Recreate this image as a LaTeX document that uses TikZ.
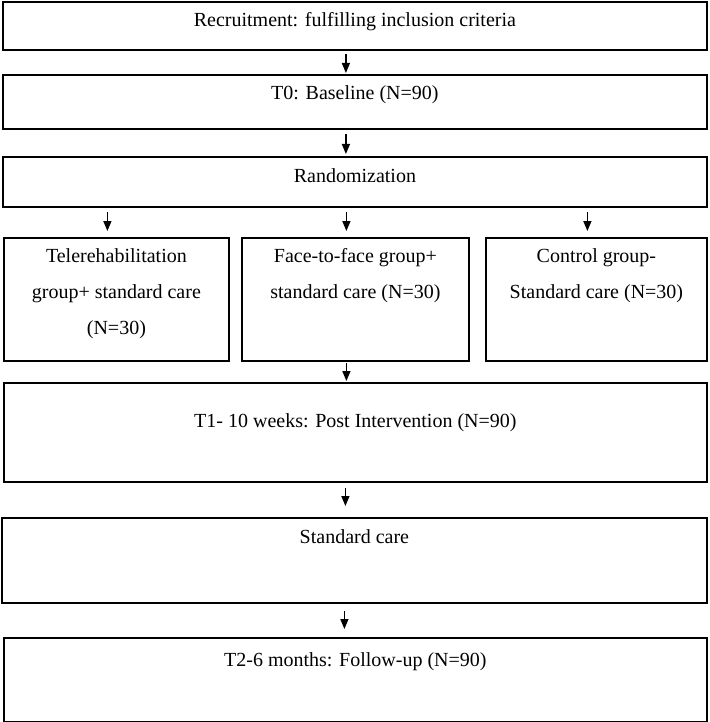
\documentclass[tikz,border=0pt]{standalone}
\usepackage{fontspec}
\setmainfont{Liberation Serif}
\usetikzlibrary{arrows.meta}

\tikzset{
  stage/.style={draw, line width=1.8pt, anchor=north west, inner sep=0pt},
  stagetext/.style={anchor=north, inner sep=0pt, align=center,
    font=\fontsize{20}{36}\selectfont},
  arr/.style={line width=1.4pt, -{Triangle[length=10pt, width=8pt]}},
}

\begin{document}
\begin{tikzpicture}[x=1pt, y=-1pt]
  \useasboundingbox (0, 0) rectangle (709, 722);

  % boxes
  \node (recruit) [stage, minimum width=704pt, minimum height=48pt] at (2, 1) {};
  \node (base) [stage, minimum width=704pt, minimum height=54pt] at (2, 74) {};
  \node (rand) [stage, minimum width=704pt, minimum height=50pt] at (2, 156) {};
  \node (tele) [stage, minimum width=225pt, minimum height=123pt] at (3, 237) {};
  \node (face) [stage, minimum width=227pt, minimum height=123pt] at (241, 237) {};
  \node (ctrl) [stage, minimum width=221pt, minimum height=123pt] at (485, 237) {};
  \node (post) [stage, minimum width=703pt, minimum height=99pt] at (3, 382) {};
  \node (std) [stage, minimum width=705pt, minimum height=85pt] at (1, 517) {};
  \node (follow) [stage, minimum width=703pt, minimum height=84pt] at (3, 637) {};

  % texts
  \node (recruit-t) [stagetext] at ([yshift=-11pt]recruit.north)
    {Recruitment: fulfilling inclusion criteria};
  \node (base-t) [stagetext] at ([yshift=-11pt]base.north) {T0: Baseline (N=90)};
  \node (rand-t) [stagetext] at ([yshift=-12pt]rand.north) {Randomization};
  \node (tele-t) [stagetext] at ([yshift=-11pt]tele.north)
    {Telerehabilitation\\group+ standard care\\(N=30)};
  \node (face-t) [stagetext] at ([yshift=-11pt]face.north)
    {Face-to-face group+\\standard care (N=30)};
  \node (ctrl-t) [stagetext] at ([yshift=-11pt]ctrl.north)
    {Control group-\\Standard care (N=30)};
  \node (post-t) [stagetext] at ([yshift=-31pt]post.north)
    {T1- 10 weeks: Post Intervention (N=90)};
  \node (std-t) [stagetext] at ([yshift=-12pt]std.north) {Standard care};
  \node (follow-t) [stagetext] at ([yshift=-15pt]follow.north)
    {T2-6 months: Follow-up (N=90)};

  % arrows
  \draw[arr, shorten <=3pt, shorten >=1pt]
    ([xshift=-9pt]recruit.south) -- ([xshift=-9pt]base.north);
  \draw[arr, shorten <=4pt, shorten >=2pt]
    ([xshift=-9pt]base.south) -- ([xshift=-9pt]base.south |- rand.north);
  \foreach \grp in {tele, face, ctrl}
    \draw[arr, shorten <=4pt, shorten >=6pt]
      ([xshift=-9pt]\grp.north |- rand.south) -- ([xshift=-9pt]\grp.north);
  \draw[arr, shorten <=1pt, shorten >=1pt]
    ([xshift=-9pt]face.south) -- ([xshift=-9pt]face.south |- post.north);
  \draw[arr, shorten <=5pt, shorten >=11pt]
    ([xshift=-10pt]post.south) -- ([xshift=-10pt]post.south |- std.north);
  \draw[arr, shorten <=7pt, shorten >=8pt]
    ([xshift=-10pt]std.south) -- ([xshift=-10pt]std.south |- follow.north);
\end{tikzpicture}
\end{document}
